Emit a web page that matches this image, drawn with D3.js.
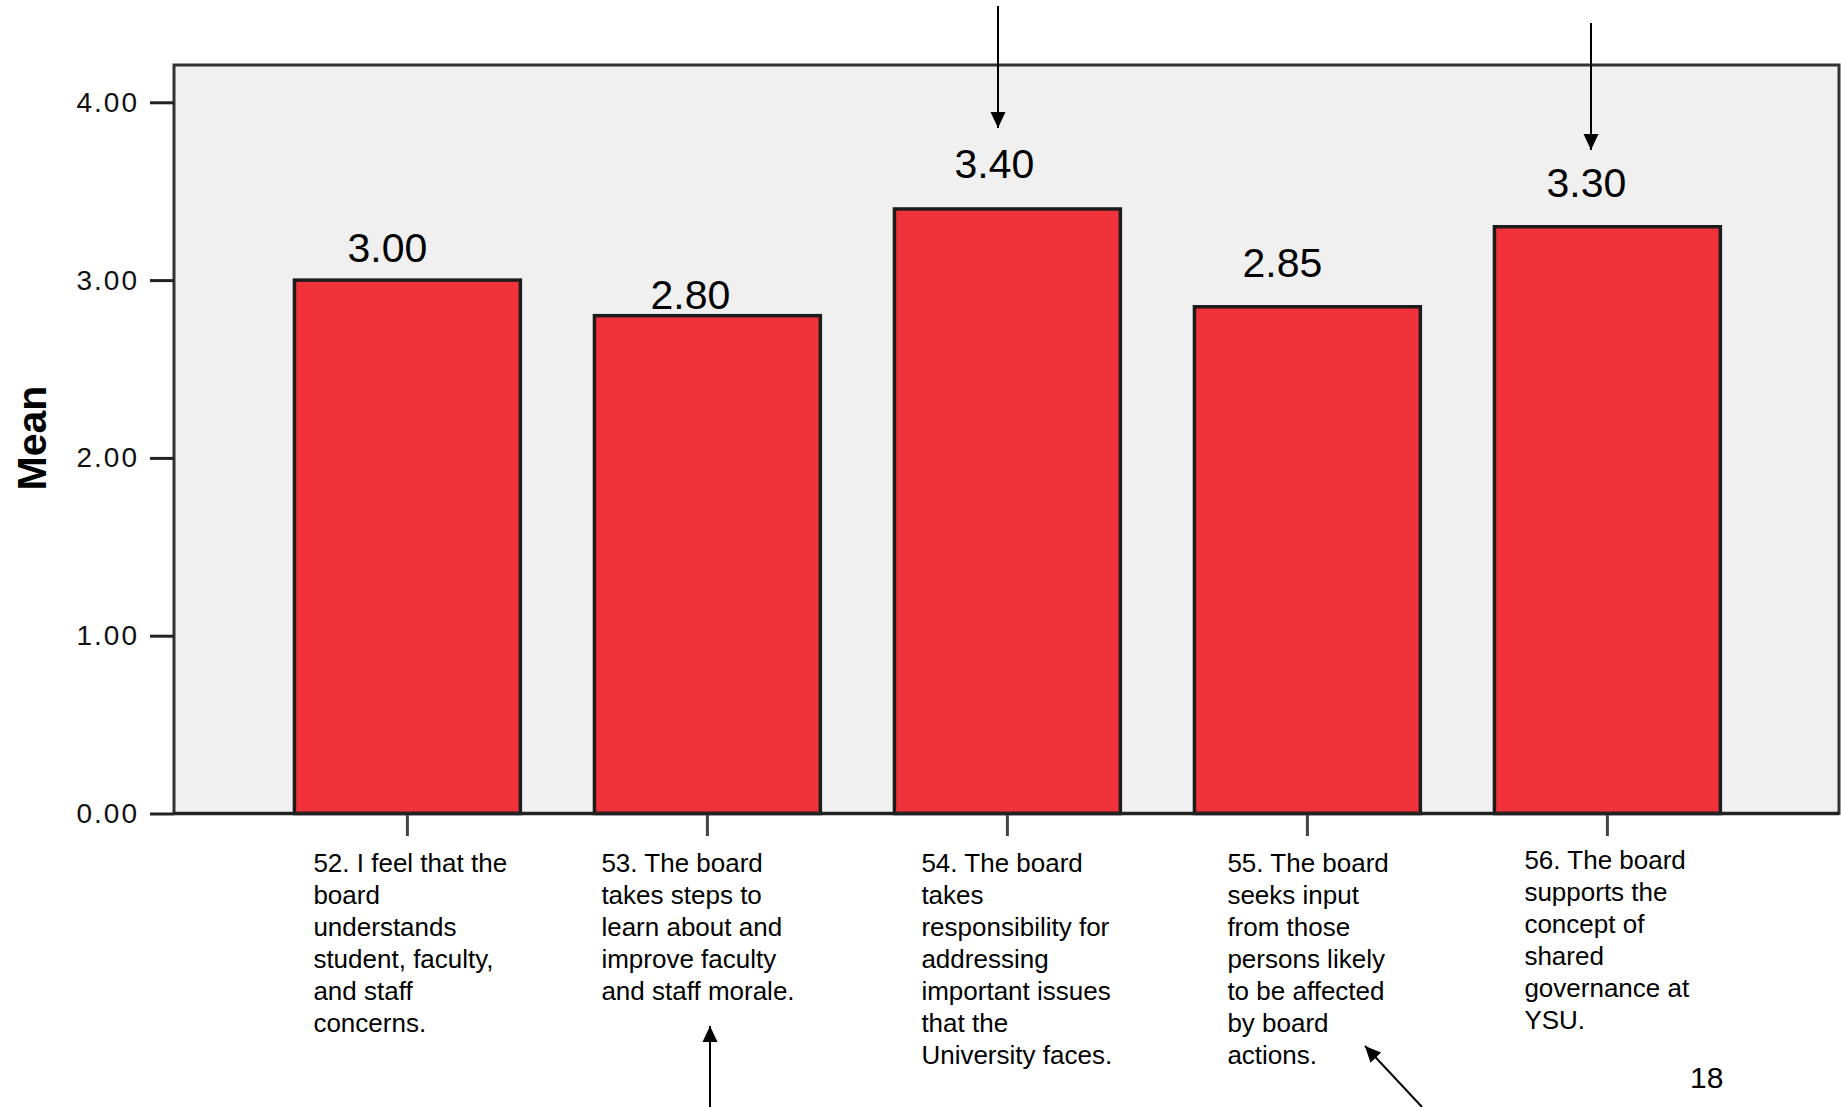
<!DOCTYPE html>
<html>
<head>
<meta charset="utf-8">
<script src="https://cdn.jsdelivr.net/npm/d3@7"></script>
<style>
  body { margin: 0; background: #fff; }
  svg { display: block; font-family: "Liberation Sans", Arial, sans-serif; }
</style>
</head>
<body>
<svg width="1841" height="1107"></svg>
<script>
// data
var items = ["52", "53", "54", "55", "56"];
var means = [3.00, 2.80, 3.40, 2.85, 3.30];
var yTicks = [0, 1, 2, 3, 4];
var itemLabels = [
  ["52. I feel that the", "board", "understands", "student, faculty,", "and staff", "concerns."],
  ["53. The board", "takes steps to", "learn about and", "improve faculty", "and staff morale."],
  ["54. The board", "takes", "responsibility for", "addressing", "important issues", "that the", "University faces."],
  ["55. The board", "seeks input", "from those", "persons likely", "to be affected", "by board", "actions."],
  ["56. The board", "supports the", "concept of", "shared", "governance at", "YSU."]
];
var pageNumber = "18";

// hand placed annotation nudges (value labels and item text boxes)
var valueNudgeX = [-20, -17, -13, -25, -21];
var valueGap = [18, 7, 31, 30, 30];
var textNudgeX = [-94, -106, -86, -80, -83];
var textNudgeY = [0, 0, 0, 0, -3];

var svg = d3.select("svg");

var plot = { left: 174, top: 65, right: 1839, bottom: 813.5 };

var y = d3.scaleLinear()
    .domain([0, 4])
    .range([plot.bottom, 102.3]);

var x = d3.scaleBand()
    .domain(items)
    .range([257.4, 1757.4])
    .paddingInner(0.247)
    .paddingOuter(0.1235);

// plot background / frame
svg.append("rect")
    .attr("x", plot.left)
    .attr("y", plot.top)
    .attr("width", plot.right - plot.left)
    .attr("height", plot.bottom - plot.top)
    .attr("fill", "#f0f0f0")
    .attr("stroke", "#333")
    .attr("stroke-width", 3);

// bars
svg.append("g").selectAll("rect")
    .data(means)
    .enter()
    .append("rect")
    .attr("x", function(d, i) { return x(items[i]); })
    .attr("y", function(d) { return y(d); })
    .attr("width", x.bandwidth())
    .attr("height", function(d) { return y(0) - y(d); })
    .attr("fill", "#f0323a")
    .attr("stroke", "#1c1c1c")
    .attr("stroke-width", 3.5);

// axis line at zero
svg.append("line")
    .attr("x1", plot.left).attr("x2", plot.right)
    .attr("y1", plot.bottom).attr("y2", plot.bottom)
    .attr("stroke", "#222")
    .attr("stroke-width", 3.5);

// y axis
var yAxis = svg.append("g")
    .attr("transform", "translate(" + plot.left + ",0)")
    .call(d3.axisLeft(y)
      .tickValues(yTicks)
      .tickFormat(d3.format(".2f"))
      .tickSize(24)
      .tickPadding(11));
yAxis.select(".domain").remove();
yAxis.selectAll(".tick line").attr("stroke", "#222").attr("stroke-width", 3);
yAxis.selectAll(".tick text")
    .attr("fill", "#111")
    .attr("font-size", 28)
    .attr("letter-spacing", 2)
    .attr("font-family", "'Liberation Sans', Arial, sans-serif");

// x axis ticks
var xAxis = svg.append("g")
    .attr("transform", "translate(0," + (plot.bottom + 1.5) + ")")
    .call(d3.axisBottom(x).tickSize(21).tickFormat(""));
xAxis.select(".domain").remove();
xAxis.selectAll(".tick line").attr("stroke", "#444").attr("stroke-width", 3);

// y title
svg.append("text")
    .attr("transform", "translate(46,438) rotate(-90)")
    .attr("text-anchor", "middle")
    .attr("font-size", 41)
    .attr("font-weight", "bold")
    .attr("fill", "#000")
    .text("Mean");

// value labels
svg.append("g").selectAll("text")
    .data(means)
    .enter()
    .append("text")
    .attr("x", function(d, i) { return x(items[i]) + x.bandwidth() / 2 + valueNudgeX[i]; })
    .attr("y", function(d, i) { return y(d) - valueGap[i]; })
    .attr("text-anchor", "middle")
    .attr("font-size", 41)
    .attr("fill", "#000")
    .text(function(d) { return d3.format(".2f")(d); });

// item text under each bar
var itemText = svg.append("g").selectAll("text")
    .data(itemLabels)
    .enter()
    .append("text")
    .attr("font-size", 26)
    .attr("fill", "#000")
    .attr("transform", function(d, i) {
      var cx = x(items[i]) + x.bandwidth() / 2;
      return "translate(" + (cx + textNudgeX[i]) + "," + (871.7 + textNudgeY[i]) + ")";
    });

itemText.selectAll("tspan")
    .data(function(d) { return d; })
    .enter()
    .append("tspan")
    .attr("x", 0)
    .attr("y", function(d, j) { return j * 32; })
    .text(function(d) { return d; });

// page number
svg.append("text")
    .attr("x", 1690)
    .attr("y", 1088)
    .attr("font-size", 30)
    .attr("fill", "#000")
    .text(pageNumber);

// arrows
var arrows = [
  { x1: 998, y1: 6, x2: 998, y2: 128 },
  { x1: 1591, y1: 23, x2: 1591, y2: 150 },
  { x1: 710, y1: 1107, x2: 710, y2: 1026 },
  { x1: 1422, y1: 1107, x2: 1365, y2: 1046 }
];

svg.append("defs").append("marker")
    .attr("id", "head")
    .attr("viewBox", "0 0 16 16")
    .attr("refX", 16)
    .attr("refY", 8)
    .attr("markerWidth", 16)
    .attr("markerHeight", 16)
    .attr("markerUnits", "userSpaceOnUse")
    .attr("orient", "auto")
    .append("path")
    .attr("d", "M0,0.5L16,8L0,15.5Z")
    .attr("fill", "#000");

svg.append("g").selectAll("line")
    .data(arrows)
    .enter()
    .append("line")
    .attr("x1", function(d) { return d.x1; })
    .attr("y1", function(d) { return d.y1; })
    .attr("x2", function(d) { return d.x2; })
    .attr("y2", function(d) { return d.y2; })
    .attr("stroke", "#000")
    .attr("stroke-width", 2)
    .attr("marker-end", "url(#head)");
</script>
</body>
</html>
